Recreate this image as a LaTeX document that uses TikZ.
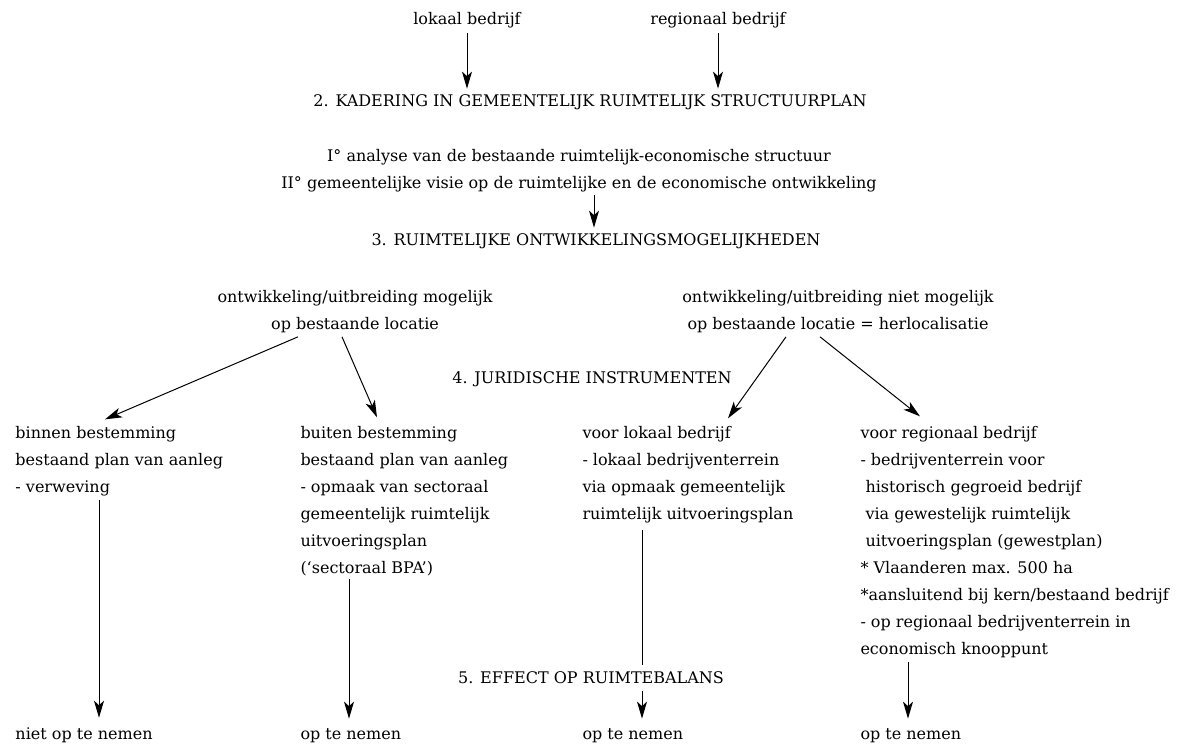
\documentclass[tikz,border=0pt]{standalone}
\usepackage{fontspec}
\setmainfont{DejaVu Serif}
\usetikzlibrary{arrows.meta,positioning,calc}
\tikzset{
  tekst/.style={inner sep=0pt,font=\fontsize{16}{27}\selectfont},
  kol/.style={tekst,anchor=base west,align=left},
  mid/.style={tekst,anchor=base,align=center},
  pijl/.style={-{Stealth[length=17pt,width=10pt,inset=4.5pt]}},
}
\begin{document}
\begin{tikzpicture}[x=1pt,y=-1pt,line width=1pt]
  \useasboundingbox (0,0) rectangle (1178,745);
  % bovenste deel
  \node[mid] (lok) at (467,24) {lokaal bedrijf};
  \node[mid] (reg) at (718,24) {regionaal bedrijf};
  \node[mid] (kad) at (590,106) {2. KADERING IN GEMEENTELIJK RUIMTELIJK STRUCTUURPLAN};
  \node[mid] (ana) at (579,188) {I° analyse van de bestaande ruimtelijk-economische structuur\\
    II° gemeentelijke visie op de ruimtelijke en de economische ontwikkeling};
  \node[mid] (ruim) at (596,245) {3. RUIMTELIJKE ONTWIKKELINGSMOGELIJKHEDEN};
  \draw[pijl] ($(lok.south)+(0,5)$) -- ($(lok.south |- kad.north)+(0,-5)$);
  \draw[pijl] ($(reg.south)+(0,5)$) -- ($(reg.south |- kad.north)+(0,-5)$);
  \draw[pijl] ($(ana.south -| ruim.north)+(-2,3)$) -- ($(ruim.north)+(-2,-5)$);
  % mogelijkheden
  \node[mid] (mog) at (355,329) {ontwikkeling/uitbreiding mogelijk\\op bestaande locatie};
  \node[mid] (nmog) at (838,329) {ontwikkeling/uitbreiding niet mogelijk\\op bestaande locatie = herlocalisatie};
  \node[mid] (jur) at (592,383) {4. JURIDISCHE INSTRUMENTEN};
  % kolommen
  \node[kol] (bin) at (15,492) {binnen bestemming\\bestaand plan van aanleg\\- verweving};
  \node[kol] (bui) at (300,573) {buiten bestemming\\bestaand plan van aanleg\\- opmaak van sectoraal\\
    gemeentelijk ruimtelijk\\uitvoeringsplan\\(`sectoraal BPA')};
  \node[kol] (vl) at (582,519) {voor lokaal bedrijf\\- lokaal bedrijventerrein\\via opmaak gemeentelijk\\
    ruimtelijk uitvoeringsplan};
  \node[kol] (vr) at (860,654) {voor regionaal bedrijf\\- bedrijventerrein voor\\
    \hspace*{5pt}historisch gegroeid bedrijf\\\hspace*{5pt}via gewestelijk ruimtelijk\\
    \hspace*{5pt}uitvoeringsplan (gewestplan)\\* Vlaanderen max. 500 ha\\
    *aansluitend bij kern/bestaand bedrijf\\- op regionaal bedrijventerrein in\\economisch knooppunt};
  \draw[pijl] ($(mog.south)+(-57,4)$) -- ($(bin.north west)+(90,-6)$);
  \draw[pijl] ($(mog.south)+(-13,4)$) -- ($(bui.north west)+(77,-8)$);
  \draw[pijl] ($(nmog.south)+(-52,4)$) -- ($(vl.north west)+(146,-7)$);
  \draw[pijl] ($(nmog.south)+(-18,4)$) -- ($(vr.north west)+(60,-9)$);
  % effect op ruimtebalans
  \node[mid] (eff) at (591,683) {5. EFFECT OP RUIMTEBALANS};
  \node[kol] (niet) at (15,739) {niet op te nemen};
  \node[kol] (op2) at (300,739) {op te nemen};
  \node[kol] (op3) at (582,739) {op te nemen};
  \node[kol] (op4) at (860,739) {op te nemen};
  \coordinate (l1) at ($(bin.south west)+(84,4)$);
  \coordinate (l2) at ($(bui.south west)+(49,3)$);
  \coordinate (l3) at ($(vl.south west)+(60,7)$);
  \coordinate (l4) at ($(vr.south west)+(48,4)$);
  \draw[pijl] (l1) -- ($(l1 |- niet.north)+(0,-9)$);
  \draw[pijl] (l2) -- ($(l2 |- op2.north)+(0,-9)$);
  \draw (l3) -- ($(l3 |- eff.north)+(0,-6)$);
  \draw[pijl] ($(l3 |- eff.south)+(0,7)$) -- ($(l3 |- op3.north)+(0,-9)$);
  \draw[pijl] (l4) -- ($(l4 |- op4.north)+(0,-9)$);
\end{tikzpicture}
\end{document}
